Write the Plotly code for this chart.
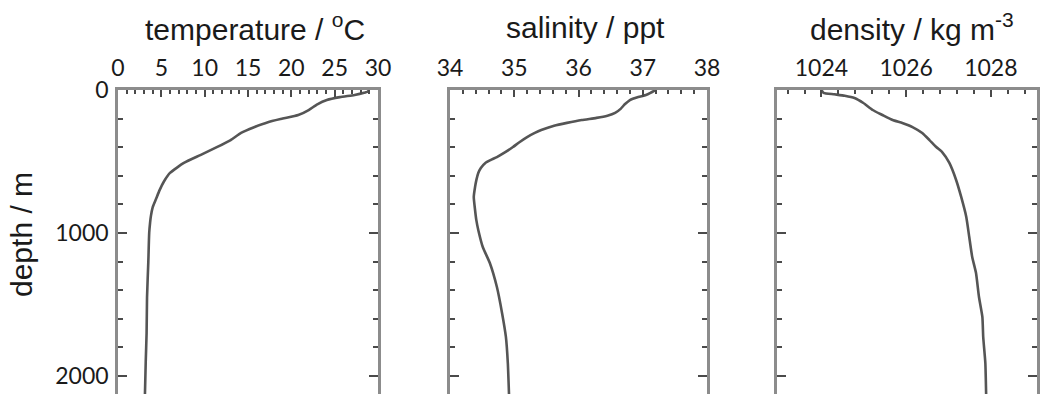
import plotly.graph_objects as go

# ---- data ----
temp_depth = [0, 10, 20, 35, 50, 70, 100, 140, 175, 200, 225, 260, 300, 350, 400, 455, 510, 580, 640, 700, 760, 820, 880, 930, 1000, 1200, 1450, 1700, 1900, 2150]
temp_value = [28.8, 28.9, 28.4, 27.3, 25.6, 24.1, 23.0, 22.0, 20.8, 19.0, 17.3, 15.7, 14.2, 13.0, 11.4, 9.5, 7.6, 6.0, 5.3, 4.8, 4.4, 4.0, 3.8, 3.7, 3.6, 3.5, 3.35, 3.3, 3.2, 3.1]

sal_depth = [0, 20, 35, 49, 70, 100, 130, 160, 180, 195, 210, 230, 250, 280, 300, 329, 365, 399, 435, 469, 490, 510, 545, 580, 630, 678, 748, 839, 910, 979, 1098, 1210, 1378, 1559, 1727, 1909, 2150]
sal_value = [37.2, 37.12, 37.05, 36.93, 36.80, 36.72, 36.66, 36.57, 36.45, 36.28, 36.05, 35.82, 35.62, 35.42, 35.32, 35.20, 35.08, 34.98, 34.86, 34.73, 34.63, 34.55, 34.48, 34.44, 34.41, 34.39, 34.37, 34.39, 34.41, 34.44, 34.51, 34.62, 34.73, 34.81, 34.87, 34.90, 34.92]

dens_depth = [0, 20, 30, 40, 56, 91, 140, 175, 210, 231, 259, 301, 350, 399, 434, 510, 629, 748, 888, 1028, 1168, 1280, 1448, 1587, 1727, 1909, 2150]
dens_value = [1024.0, 1024.05, 1024.3, 1024.55, 1024.78, 1024.99, 1025.21, 1025.44, 1025.68, 1025.91, 1026.15, 1026.38, 1026.55, 1026.71, 1026.85, 1027.02, 1027.18, 1027.30, 1027.42, 1027.49, 1027.56, 1027.65, 1027.72, 1027.80, 1027.82, 1027.87, 1027.89]

panel_titles = ["temperature / <sup>o</sup>C", "salinity / ppt", "density / kg m<sup>-3</sup>"]
depth_title = "depth / m"
depth_ticks = [0, 1000, 2000]

W, H = 1040, 394
LINE = "#555555"
FRAME = "#8c8c8c"
TICKC = "#4a4a4a"
TXT = "#1a1a1a"
TICKFONT = dict(family="Lato, Carlito, Calibri, sans-serif", size=23, color=TXT)
TITLEFONT = dict(family="Liberation Sans, Arial, sans-serif", size=30, color=TXT)

fig = go.Figure()
series = [(temp_value, temp_depth), (sal_value, sal_depth), (dens_value, dens_depth)]
for i, (xv, yv) in enumerate(series):
    fig.add_trace(go.Scatter(x=xv, y=yv, mode="lines", line=dict(color=LINE, width=2.6, shape="spline", smoothing=0.5),
                             xaxis="x" if i == 0 else f"x{i+1}", yaxis="y" if i == 0 else f"y{i+1}",
                             showlegend=False, hoverinfo="skip", cliponaxis=True))

xdoms = [[118 / W, 378 / W], [450 / W, 707 / W], [777 / W, 1037 / W]]
xranges = [[0, 30], [34, 38.0], [1022.95, 1029.09]]
xmajor = [(0, 5), (34, 1), (1024, 2)]
xminor = [1, 0.2, 0.4]
ytop = (H - 90) / H
yrange = [(H - 90) / 0.143, 0]

layout = dict(width=W, height=H, margin=dict(l=0, r=0, t=0, b=0, autoexpand=False),
              paper_bgcolor="white", plot_bgcolor="white")
for i in range(3):
    xk = "xaxis" if i == 0 else f"xaxis{i+1}"
    yk = "yaxis" if i == 0 else f"yaxis{i+1}"
    ya = "y" if i == 0 else f"y{i+1}"
    xa = "x" if i == 0 else f"x{i+1}"
    layout[xk] = dict(domain=xdoms[i], range=xranges[i], side="top", anchor=ya, automargin=False,
                      showline=True, linecolor=FRAME, linewidth=2.5, mirror=False,
                      showgrid=False, zeroline=False,
                      ticks="inside", ticklen=7, tickwidth=2, tickcolor=TICKC,
                      tick0=xmajor[i][0], dtick=xmajor[i][1],
                      minor=dict(dtick=xminor[i], tick0=xmajor[i][0], ticks="inside", ticklen=4, tickwidth=1.5, tickcolor=TICKC, showgrid=False),
                      tickfont=TICKFONT, ticklabelstandoff=2, fixedrange=True)
    layout[yk] = dict(domain=[0, ytop], range=yrange, anchor=xa, automargin=False,
                      showline=True, linecolor=FRAME, linewidth=2.5, mirror="ticks",
                      showgrid=False, zeroline=False,
                      ticks="inside", ticklen=9, tickwidth=2, tickcolor=TICKC,
                      tickvals=depth_ticks, showticklabels=(i == 0),
                      minor=dict(dtick=200, tick0=0, ticks="inside", ticklen=5, tickwidth=1.5, tickcolor=TICKC, showgrid=False),
                      tickfont=TICKFONT, ticklabelstandoff=2, fixedrange=True)

fig.update_layout(**layout)

title_x = [255, 585, 912]
for i, t in enumerate(panel_titles):
    fig.add_annotation(text=t, x=title_x[i] / W, y=(H - 27) / H, xref="paper", yref="paper",
                       xanchor="center", yanchor="middle", showarrow=False, font=TITLEFONT)
fig.add_annotation(text=depth_title, x=22 / W, y=(H - 235) / H, xref="paper", yref="paper",
                   xanchor="center", yanchor="middle", showarrow=False, textangle=-90, font=TITLEFONT)

fig.write_html("out.html", config={"displayModeBar": False},
               post_script="document.body.style.margin='0';document.body.style.overflow='hidden';")
